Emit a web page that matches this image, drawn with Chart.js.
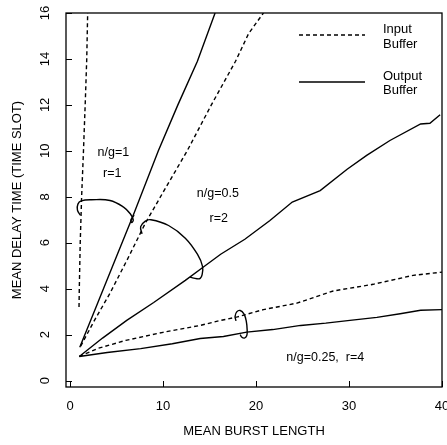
<!DOCTYPE html>
<html>
<head>
<meta charset="utf-8">
<script src="https://cdn.jsdelivr.net/npm/chart.js@4.4.0/dist/chart.umd.min.js"></script>
<style>
  body { margin: 0; background: #fff; }
  #wrap { width: 447px; height: 445px; }
</style>
</head>
<body>
<div id="wrap"><canvas id="delayChart" width="447" height="445"></canvas></div>
<script>
// tick labels
var xTicks = [0, 10, 20, 30, 40];
var yTicks = [0, 2, 4, 6, 8, 10, 12, 14, 16];

// n/g = 1, r = 1
var ng1InX = [0.97, 1.0, 1.1, 1.25, 1.45, 1.65, 1.8, 1.9];
var ng1InY = [3.2, 4.0, 6.0, 8.0, 10.0, 12.2, 14.0, 16.0];
var ng1OutX = [1.05, 3.0, 5.0, 6.8, 9.5, 11.6, 13.7, 15.6];
var ng1OutY = [1.45, 3.4, 5.4, 7.2, 10.0, 12.0, 13.9, 16.0];

// n/g = 0.5, r = 2
var ng05InX = [1.15, 2.6, 4.3, 6.2, 8.1, 10.3, 12.6, 15.2, 17.8, 19.2, 20.8];
var ng05InY = [1.5, 2.6, 3.8, 5.3, 6.85, 8.4, 10.0, 12.0, 13.9, 15.1, 16.0];
var ng05OutX = [1.0, 3.5, 6.1, 9.0, 12.4, 14.2, 16.2, 18.8, 21.5, 23.9, 26.9, 29.8, 31.9, 34.4, 37.7, 38.7, 39.8];
var ng05OutY = [1.05, 1.85, 2.62, 3.4, 4.36, 4.9, 5.5, 6.15, 6.97, 7.77, 8.27, 9.2, 9.8, 10.45, 11.17, 11.2, 11.57];

// n/g = 0.25, r = 4
var ng025InX = [1.0, 3.0, 6.0, 10.0, 14.0, 16.0, 18.0, 20.8, 24.4, 28.3, 32.6, 36.9, 40.0];
var ng025InY = [1.05, 1.4, 1.75, 2.1, 2.4, 2.6, 2.77, 3.09, 3.37, 3.9, 4.19, 4.58, 4.72];
var ng025OutX = [1.0, 4.0, 7.6, 11.0, 14.0, 16.5, 19.0, 21.8, 24.8, 27.5, 30.1, 33.0, 35.5, 37.7, 40.0];
var ng025OutY = [1.05, 1.22, 1.39, 1.6, 1.83, 1.92, 2.11, 2.22, 2.4, 2.5, 2.62, 2.75, 2.91, 3.06, 3.09];

// hand drawn loops grouping each pair
var loop1X = [1.11, 0.8, 0.85, 1.2, 2.3, 4.3, 5.76, 6.48, 6.8, 6.65, 6.55, 6.75, 6.9];
var loop1Y = [7.2, 7.42, 7.68, 7.82, 7.87, 7.84, 7.55, 7.26, 7.0, 6.88, 6.98, 7.12, 7.2];
var loop2X = [7.74, 7.6, 8.1, 8.7, 10.6, 12.4, 13.7, 14.25, 14.2, 14.0, 13.66, 12.9];
var loop2Y = [6.39, 6.7, 6.94, 7.0, 6.75, 6.2, 5.5, 4.97, 4.6, 4.45, 4.43, 4.5];
var loop3X = [17.85, 17.75, 17.95, 18.3, 18.7, 18.95, 19.05, 19.0, 18.75, 18.45, 18.3];
var loop3Y = [2.6, 2.8, 3.0, 3.05, 2.9, 2.6, 2.2, 1.95, 1.85, 1.9, 2.0];

// curve labels (data coordinates)
var noteText = ['n/g=1', 'r=1', 'n/g=0.5', 'r=2', 'n/g=0.25,  r=4'];
var noteX = [4.66, 4.55, 15.9, 16.0, 27.45];
var noteY = [9.93, 9.0, 8.15, 7.06, 1.02];

var FONT = "'Liberation Sans', Arial, Helvetica, sans-serif";

function pts(xs, ys) {
  return xs.map(function (x, i) { return { x: x, y: ys[i] }; });
}

function curve(label, xs, ys, dashed, smooth) {
  return {
    label: label,
    data: pts(xs, ys),
    borderColor: '#000',
    borderWidth: 1.4,
    borderDash: dashed ? [4, 3] : [],
    pointRadius: 0,
    tension: smooth ? 0.4 : 0,
    fill: false
  };
}

var framePlugin = {
  id: 'frame',
  afterDraw: function (chart) {
    var ctx = chart.ctx, a = chart.chartArea;
    var xs = chart.scales.x, ys = chart.scales.y;
    ctx.save();
    ctx.strokeStyle = '#000';
    ctx.lineWidth = 1.3;
    ctx.setLineDash([]);
    ctx.strokeRect(a.left, a.top, a.right - a.left, a.bottom - a.top);

    // inward tick marks
    ctx.lineWidth = 1;
    xTicks.forEach(function (v) {
      var px = Math.round(xs.getPixelForValue(v)) + 0.5;
      ctx.beginPath(); ctx.moveTo(px, a.bottom); ctx.lineTo(px, a.bottom - 6); ctx.stroke();
    });
    yTicks.forEach(function (v) {
      var py = Math.round(ys.getPixelForValue(v)) + 0.5;
      ctx.beginPath(); ctx.moveTo(a.left, py); ctx.lineTo(a.left + 6, py); ctx.stroke();
    });

    // curve labels
    ctx.fillStyle = '#000';
    ctx.font = '12.5px ' + FONT;
    ctx.textAlign = 'center';
    ctx.textBaseline = 'middle';
    noteText.forEach(function (t, i) {
      ctx.fillText(t, xs.getPixelForValue(noteX[i]), ys.getPixelForValue(noteY[i]));
    });

    // legend
    var lx0 = a.right - 143, lx1 = a.right - 77, tx = a.right - 59;
    ctx.lineWidth = 1.3;
    ctx.setLineDash([4, 3]);
    ctx.beginPath(); ctx.moveTo(lx0, a.top + 22); ctx.lineTo(lx1, a.top + 22); ctx.stroke();
    ctx.setLineDash([]);
    ctx.beginPath(); ctx.moveTo(lx0, a.top + 69); ctx.lineTo(lx1, a.top + 69); ctx.stroke();
    ctx.font = '13px ' + FONT;
    ctx.textAlign = 'left';
    ctx.fillText('Input', tx, a.top + 16);
    ctx.fillText('Buffer', tx, a.top + 31);
    ctx.fillText('Output', tx, a.top + 63);
    ctx.fillText('Buffer', tx, a.top + 77);
    ctx.restore();
  }
};

var ctx = document.getElementById('delayChart').getContext('2d');
var delayChart = new Chart(ctx, {
  type: 'line',
  data: {
    datasets: [
      curve('n/g=1 Input', ng1InX, ng1InY, true, false),
      curve('n/g=1 Output', ng1OutX, ng1OutY, false, false),
      curve('n/g=0.5 Input', ng05InX, ng05InY, true, false),
      curve('n/g=0.5 Output', ng05OutX, ng05OutY, false, false),
      curve('n/g=0.25 Input', ng025InX, ng025InY, true, false),
      curve('n/g=0.25 Output', ng025OutX, ng025OutY, false, false),
      curve('loop 1', loop1X, loop1Y, false, true),
      curve('loop 2', loop2X, loop2Y, false, true),
      curve('loop 3', loop3X, loop3Y, false, true)
    ]
  },
  options: {
    responsive: false,
    animation: false,
    devicePixelRatio: 1,
    layout: { padding: { top: 13, right: 5, left: 0, bottom: 0 } },
    plugins: {
      legend: { display: false },
      tooltip: { enabled: false }
    },
    scales: {
      x: {
        type: 'linear',
        min: -0.43,
        max: 40,
        afterBuildTicks: function (s) { s.ticks = xTicks.map(function (v) { return { value: v }; }); },
        afterFit: function (s) { s.height = 58; s.paddingLeft = 0; s.paddingRight = 0; },
        grid: { display: false, drawTicks: false },
        border: { display: false },
        ticks: { font: { family: FONT, size: 13 }, color: '#000', padding: 12, maxRotation: 0 },
        title: {
          display: true,
          text: 'MEAN BURST LENGTH',
          font: { family: FONT, size: 13 },
          color: '#000',
          padding: { top: 0, bottom: 6 }
        }
      },
      y: {
        type: 'linear',
        min: -0.28,
        max: 16,
        afterBuildTicks: function (s) { s.ticks = yTicks.map(function (v) { return { value: v }; }); },
        afterFit: function (s) { s.width = 66; s.paddingTop = 0; s.paddingBottom = 0; },
        grid: { display: false, drawTicks: false },
        border: { display: false },
        ticks: { font: { family: FONT, size: 13 }, color: '#000', padding: 13, minRotation: 90, maxRotation: 90, crossAlign: 'center' },
        title: {
          display: true,
          text: 'MEAN DELAY TIME (TIME SLOT)',
          font: { family: FONT, size: 13 },
          color: '#000',
          padding: { top: 10, bottom: 0 }
        }
      }
    }
  },
  plugins: [framePlugin]
});
</script>
</body>
</html>
